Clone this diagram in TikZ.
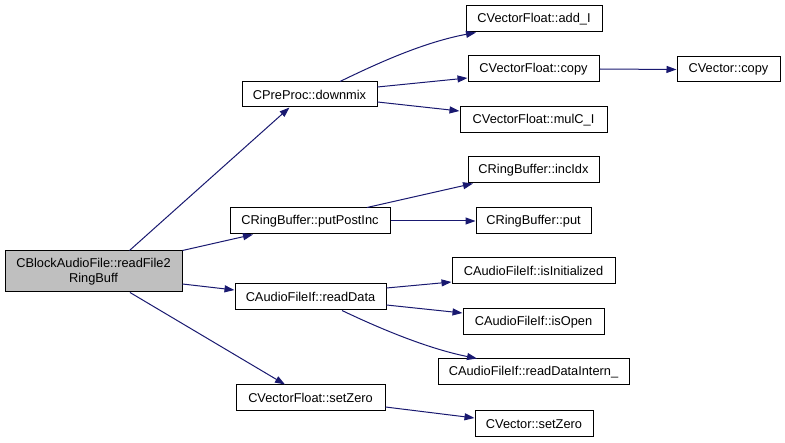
\documentclass[tikz,border=0pt]{standalone}
\usepackage{fontspec}
\setmainfont{Liberation Sans}
\usetikzlibrary{arrows.meta}
\definecolor{edgeblue}{HTML}{191970}
\definecolor{rootgray}{HTML}{BFBFBF}
\tikzset{
  fnbox/.style={draw=black, line width=1pt, fill=white, rectangle, inner sep=0pt,
    minimum height=26pt, font=\fontsize{12.8}{15.5}\selectfont, align=center},
  rootbox/.style={fnbox, fill=rootgray, minimum height=41pt},
  call/.style={draw=edgeblue, line width=1pt, -{Triangle[length=10pt,width=7pt]}, edgeblue}
}
\begin{document}
\begin{tikzpicture}[x=1pt,y=-1pt]
\useasboundingbox (0,0) rectangle (785,443);
\node[rootbox, minimum width=177pt] (root) at (93.5,271.5) {CBlockAudioFile::readFile2\\RingBuff};
\node[fnbox, minimum width=135pt, minimum height=25pt] (downmix) at (309.5,94.5) {CPreProc::downmix};
\node[fnbox, minimum width=136pt] (addI) at (534,19) {CVectorFloat::add\_I};
\node[fnbox, minimum width=131pt] (vfcopy) at (533.5,69) {CVectorFloat::copy};
\node[fnbox, minimum width=147pt] (mulC) at (533.5,120) {CVectorFloat::mulC\_I};
\node[fnbox, minimum width=103pt, minimum height=25pt] (vcopy) at (728.5,69.5) {CVector::copy};
\node[fnbox, minimum width=131pt] (incIdx) at (533.5,170) {CRingBuffer::incIdx};
\node[fnbox, minimum width=160pt] (putPostInc) at (310,221) {CRingBuffer::putPostInc};
\node[fnbox, minimum width=115pt] (put) at (533.5,221) {CRingBuffer::put};
\node[fnbox, minimum width=163pt] (isInit) at (533.5,271) {CAudioFileIf::isInitialized};
\node[fnbox, minimum width=151pt] (readData) at (310.5,297) {CAudioFileIf::readData};
\node[fnbox, minimum width=141pt] (isOpen) at (533.5,322) {CAudioFileIf::isOpen};
\node[fnbox, minimum width=191pt] (rdi) at (533.5,372) {CAudioFileIf::readDataIntern\_};
\node[fnbox, minimum width=149pt] (setZero) at (310.5,398) {CVectorFloat::setZero};
\node[fnbox, minimum width=118pt] (vsetZero) at (534,424) {CVector::setZero};

\draw[call] ([xshift=36pt]root.north) -- ([xshift=-20pt]downmix.south);
\draw[call] (root.north east) -- ([xshift=-57pt]putPostInc.south);
\draw[call] ([yshift=-12.5pt]root.east) -- ([yshift=7pt]readData.west);
\draw[call] ([xshift=36.5pt]root.south) -- ([xshift=-25.5pt]setZero.north);

\draw[call] ([xshift=30.5pt]downmix.north) .. controls (380,62) and (425,42) .. ([xshift=-58pt]addI.south);
\draw[call] ([yshift=7.5pt]downmix.east) -- ([yshift=-9pt]vfcopy.west);
\draw[call] ([yshift=-7.5pt]downmix.east) -- ([yshift=9pt]mulC.west);
\draw[call] (vfcopy.east) -- (vcopy.west);

\draw[call] ([xshift=57pt]putPostInc.north) -- ([xshift=-60.5pt]incIdx.south);
\draw[call] (putPostInc.east) -- (put.west);

\draw[call] ([yshift=9pt]readData.east) -- ([yshift=-11pt]isInit.west);
\draw[call] ([yshift=-8pt]readData.east) -- ([yshift=9pt]isOpen.west);
\draw[call] ([xshift=31.5pt]readData.south) .. controls (385,331) and (430,349) .. ([xshift=-56.5pt]rdi.north);

\draw[call] ([yshift=-9pt]setZero.east) -- ([yshift=6pt]vsetZero.west);
\end{tikzpicture}
\end{document}
